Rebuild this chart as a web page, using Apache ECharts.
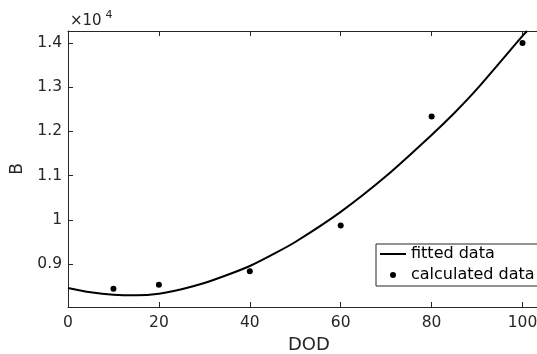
<!DOCTYPE html>
<html>
<head>
<meta charset="utf-8">
<script src="https://cdn.jsdelivr.net/npm/echarts@6/dist/echarts.min.js"></script>
<style>
  html, body { margin: 0; padding: 0; background: #fff; overflow: hidden; }
  #chart { width: 570px; height: 354px; }
</style>
</head>
<body>
<div id="chart"></div>
<script>
// fitted curve
const fitX = [0, 5, 10, 15, 20, 25, 30, 35, 40, 45, 50, 60, 70, 80, 85, 90, 100, 101]
const fitY = [8457, 8360, 8305, 8292, 8328, 8430, 8570, 8750, 8955, 9215, 9498, 10180, 10990, 11920, 12416, 12960, 14160, 14271]
// calculated points
const calcX = [10, 20, 40, 60, 80, 100]
const calcY = [8441, 8532, 8833, 9873, 12339, 14000]
// ticks
const xTicks = [0, 20, 40, 60, 80, 100]
const yTicks = [9000, 10000, 11000, 12000, 13000, 14000]

const axisColor = '#262626'
const font = '"DejaVu Sans", Verdana, sans-serif'

// the div is wider than the window so the right side of the axes box is cut off like in the source figure
const myChart = echarts.init(document.getElementById('chart'))

const xCommon = {
  type: 'value',
  min: 0,
  max: 106,
  splitLine: { show: false },
  axisLine: { show: true, lineStyle: { color: axisColor, width: 1 } },
  axisTick: { show: true, inside: true, length: 5, customValues: xTicks, lineStyle: { color: axisColor } }
}

const option = {
  animation: false,
  backgroundColor: '#fff',
  grid: { left: 68, top: 31, width: 481.8, bottom: 47, outerBoundsMode: 'none', containLabel: false },
  xAxis: [
    Object.assign({}, xCommon, {
      position: 'bottom',
      name: 'DOD',
      nameLocation: 'middle',
      nameGap: 25,
      nameTextStyle: { fontSize: 18, color: axisColor, fontFamily: font },
      axisLabel: {
        customValues: xTicks,
        margin: 8,
        fontSize: 15.5,
        color: axisColor,
        fontFamily: font
      }
    }),
    Object.assign({}, xCommon, {
      position: 'top',
      axisLabel: { show: false }
    })
  ],
  yAxis: {
    type: 'value',
    min: 8027,
    max: 14271,
    name: 'B',
    nameLocation: 'middle',
    nameGap: 36,
    nameTextStyle: { fontSize: 17, color: axisColor, fontFamily: font },
    splitLine: { show: false },
    axisLine: { show: true, lineStyle: { color: axisColor, width: 1 } },
    axisTick: { show: true, inside: true, length: 5, customValues: yTicks, lineStyle: { color: axisColor } },
    axisLabel: {
      customValues: yTicks,
      margin: 6,
      fontSize: 15.5,
      color: axisColor,
      fontFamily: font,
      formatter: v => String(v / 10000)
    }
  },
  legend: {
    data: [
      { name: 'fitted data', itemStyle: { opacity: 0 } },
      { name: 'calculated data', icon: 'circle' }
    ],
    orient: 'vertical',
    left: 376,
    top: 244,
    itemWidth: 26,
    itemHeight: 6,
    itemGap: 5,
    padding: [2, 6, 3, 3],
    borderColor: axisColor,
    borderWidth: 1,
    backgroundColor: '#fff',
    textStyle: { fontSize: 16, lineHeight: 16, color: '#000', fontFamily: font }
  },
  graphic: [
    { type: 'text', left: 70, top: 14, style: { text: '×10', font: '15px ' + font, fill: axisColor } },
    { type: 'text', left: 105.5, top: 9.5, style: { text: '4', font: '11px ' + font, fill: axisColor } }
  ],
  series: [
    {
      name: 'fitted data',
      type: 'line',
      smooth: 0.3,
      symbol: 'none',
      clip: true,
      lineStyle: { color: '#000', width: 2 },
      itemStyle: { color: '#000' },
      data: fitX.map((x, i) => [x, fitY[i]])
    },
    {
      name: 'calculated data',
      type: 'scatter',
      symbol: 'circle',
      symbolSize: 6,
      itemStyle: { color: '#000', opacity: 1 },
      data: calcX.map((x, i) => [x, calcY[i]])
    }
  ]
}
myChart.setOption(option)
</script>
</body>
</html>
